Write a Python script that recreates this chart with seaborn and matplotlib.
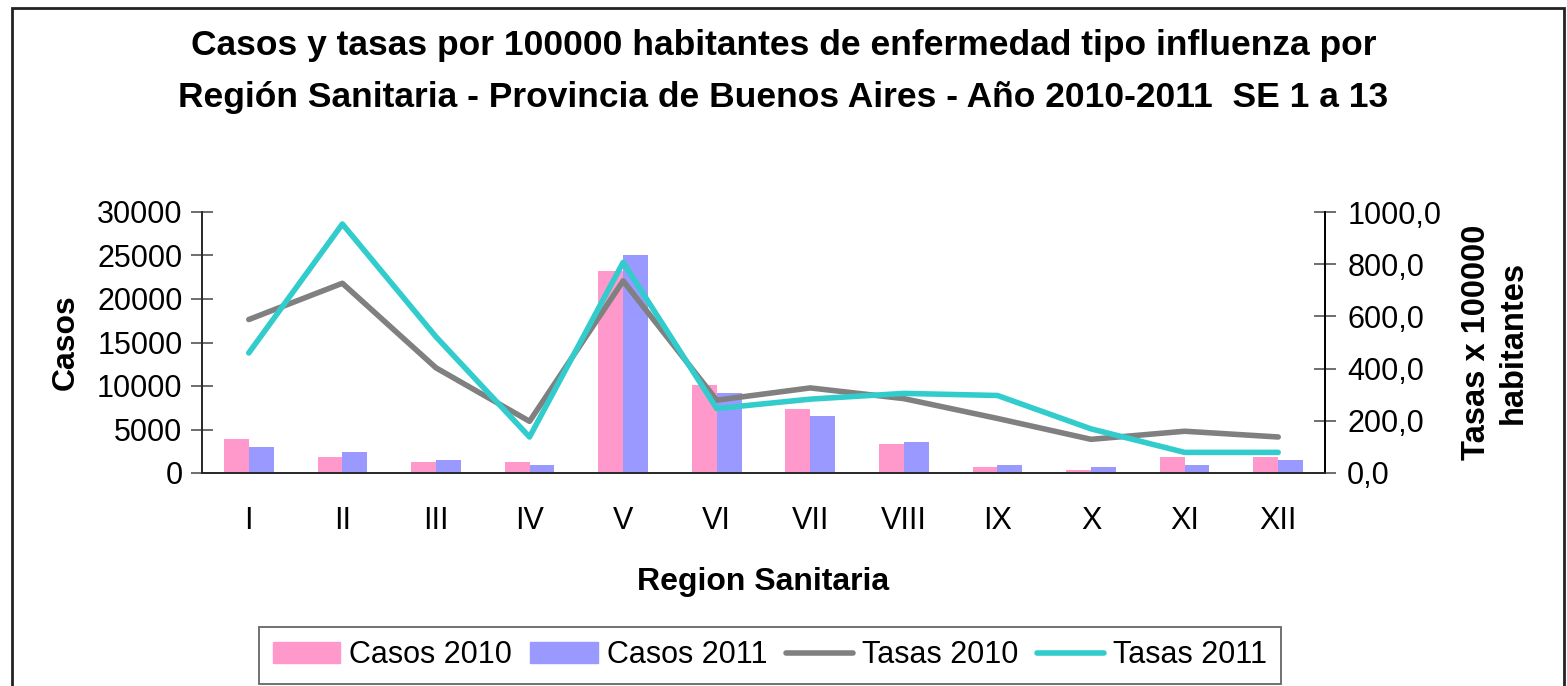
import numpy as np
import pandas as pd
import seaborn as sns
import matplotlib.pyplot as plt
from matplotlib.ticker import FixedLocator, FuncFormatter, MultipleLocator
from matplotlib.patches import Rectangle
from matplotlib.lines import Line2D

# datos
regiones = ["I", "II", "III", "IV", "V", "VI", "VII", "VIII", "IX", "X", "XI", "XII"]
casos_2010 = [3870, 1800, 1230, 1230, 23180, 10080, 7320, 3300, 650, 310, 1800, 1800]
casos_2011 = [2950, 2380, 1460, 880, 25010, 9160, 6510, 3530, 880, 650, 880, 1460]
tasas_2010 = [588, 727, 403, 198, 736, 279, 326, 285, 209, 129, 160, 138]
tasas_2011 = [460, 954, 522, 138, 807, 247, 283, 305, 297, 169, 79, 79]

ROSA = "#FF99CC"
AZUL = "#9999FF"
GRIS = "#808080"
CIAN = "#33CCCC"

df_casos = pd.DataFrame({
    "Region": regiones * 2,
    "Casos": casos_2010 + casos_2011,
    "Serie": ["Casos 2010"] * 12 + ["Casos 2011"] * 12,
})
df_tasas = pd.DataFrame({
    "Region": regiones * 2,
    "Tasa": tasas_2010 + tasas_2011,
    "Serie": ["Tasas 2010"] * 12 + ["Tasas 2011"] * 12,
})

sns.set_theme(style="white")
plt.rcParams["font.family"] = ["Liberation Sans", "DejaVu Sans"]
plt.rcParams["text.color"] = "black"
plt.rcParams["axes.labelcolor"] = "black"
plt.rcParams["xtick.color"] = "black"
plt.rcParams["ytick.color"] = "black"

fig = plt.figure(figsize=(15.67, 6.86), dpi=100)
ax = fig.add_axes([202 / 1567, 1 - 473 / 686, 1123 / 1567, 261 / 686])

sns.barplot(data=df_casos, x="Region", y="Casos", hue="Serie",
            palette=[ROSA, AZUL], width=0.53, saturation=1,
            linewidth=0, legend=False, ax=ax)

ax2 = ax.twinx()
sns.lineplot(data=df_tasas, x="Region", y="Tasa", hue="Serie",
             palette=[GRIS, CIAN], linewidth=4, sort=False,
             legend=False, ax=ax2)

ax.set_xlim(-0.5, 11.5)
ax.set_ylim(0, 30000)
ax2.set_ylim(0, 1000)
ax.yaxis.set_major_locator(MultipleLocator(5000))
ax2.yaxis.set_major_locator(MultipleLocator(200))
ax2.yaxis.set_major_formatter(FuncFormatter(lambda v, p: f"{v:.1f}".replace(".", ",")))

# marcas del eje x entre categorias
ax.xaxis.set_minor_locator(FixedLocator(np.arange(-0.5, 12, 1)))
ax.tick_params(axis="x", which="major", length=0, pad=24, labelsize=22)
ax.tick_params(axis="x", which="minor", length=11, width=1.2, direction="out", color="black")
ax.tick_params(axis="y", length=16, width=1.2, direction="inout", labelsize=22, pad=6, color="#555555")
ax2.tick_params(axis="y", length=16, width=1.2, direction="inout", labelsize=22, pad=8, color="#555555")

ax.spines["top"].set_visible(False)
ax2.spines["top"].set_visible(False)
ax.spines["left"].set_color("#555555")
ax.spines["bottom"].set_color("#555555")
ax2.spines["right"].set_color("black")
for a in (ax, ax2):
    for s in a.spines.values():
        s.set_linewidth(1.3)

ax.set_xlabel("Region Sanitaria", fontsize=23, fontweight="bold", labelpad=22)
ax.set_ylabel("Casos", fontsize=23, fontweight="bold", labelpad=12)
ax2.set_ylabel("Tasas x 100000\nhabitantes", fontsize=23.5, fontweight="bold", labelpad=14,
               linespacing=1.25)

fig.text(0.5, 1 - 45 / 686, "Casos y tasas por 100000 habitantes de enfermedad tipo influenza por",
         ha="center", va="center", fontsize=25.5, fontweight="bold")
fig.text(0.5, 1 - 97 / 686, "Región Sanitaria - Provincia de Buenos Aires - Año 2010-2011  SE 1 a 13",
         ha="center", va="center", fontsize=25.5, fontweight="bold")

handles = [
    Rectangle((0, 0), 1, 1, color=ROSA),
    Rectangle((0, 0), 1, 1, color=AZUL),
    Line2D([], [], color=GRIS, linewidth=4),
    Line2D([], [], color=CIAN, linewidth=4),
]
leg = fig.legend(handles, ["Casos 2010", "Casos 2011", "Tasas 2010", "Tasas 2011"],
                 loc="lower center", bbox_to_anchor=(770 / 1567, 2 / 686), ncol=4,
                 fontsize=22, frameon=True, fancybox=False, framealpha=1,
                 edgecolor="#666666", handlelength=2.2, handletextpad=0.3,
                 columnspacing=0.6, borderpad=0.45, borderaxespad=0)
leg.get_frame().set_linewidth(1.3)

# marco de la figura
fig.patches.append(Rectangle((12 / 1567, -0.01), 1552 / 1567, 1 - 8 / 686 + 0.01,
                             transform=fig.transFigure, fill=False,
                             edgecolor="#222222", linewidth=2))

fig.savefig("out.png", dpi=100)
